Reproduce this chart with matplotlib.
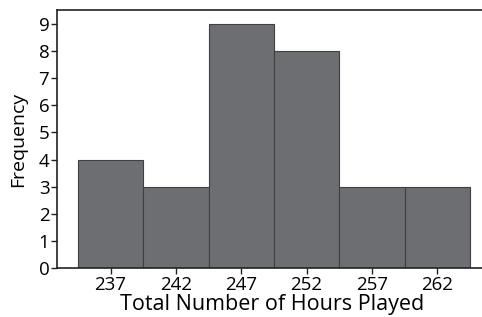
import matplotlib
matplotlib.use("Agg")
import matplotlib.pyplot as plt

# histogram bins (centres) and counts
centers = [237, 242, 247, 252, 257, 262]
counts = [4, 3, 9, 8, 3, 3]
tick_labels = ["237", "242", "247", "252", "257", "262"]
yticks = [0, 1, 2, 3, 4, 5, 6, 7, 8, 9]

plt.rcParams["font.family"] = ["Open Sans", "DejaVu Sans"]

fig = plt.figure(figsize=(4.82, 3.17), dpi=100)
ax = fig.add_axes([57 / 482, 1 - 268 / 317, (482 - 57) / 482 + 0.01, (268 - 10) / 317])

ax.bar(centers, counts, width=5, color="#6d6e71", edgecolor="#3f3f41", linewidth=0.8)

ax.set_xlim(232.9, 265.8)
ax.set_ylim(0, 9.52)
ax.set_xticks(centers)
ax.set_xticklabels(tick_labels)
ax.set_yticks(yticks)
ax.tick_params(axis="both", labelsize=13.5, length=4, width=1, color="#222222", pad=1.5)
ax.set_xlabel("Total Number of Hours Played", fontsize=15.5, labelpad=0)
ax.set_ylabel("Frequency", fontsize=14, labelpad=8)

for side in ["left", "bottom", "top"]:
    ax.spines[side].set_linewidth(1.2)
    ax.spines[side].set_color("#222222")
ax.spines["right"].set_visible(False)

fig.savefig("out.png", dpi=100)
